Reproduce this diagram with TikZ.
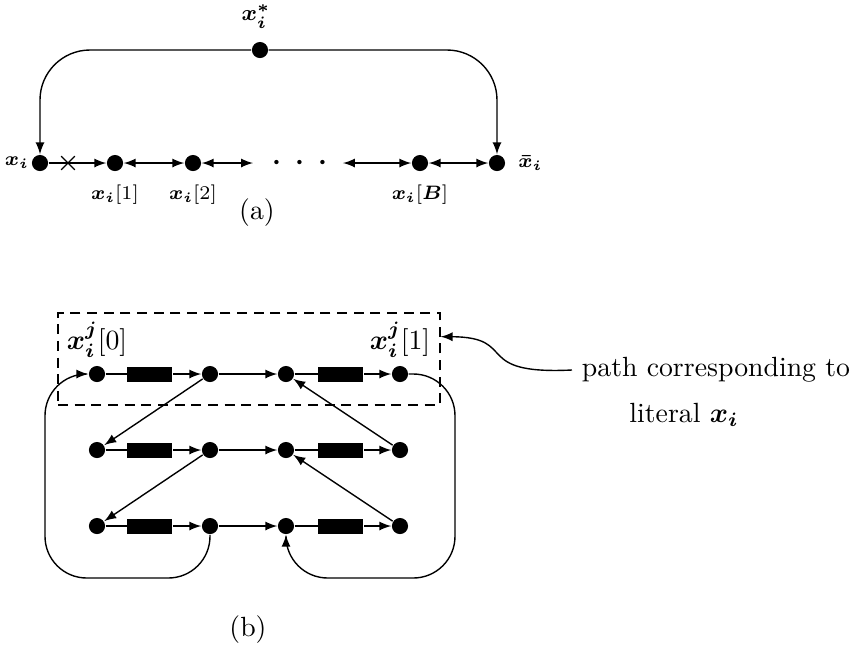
\documentclass[tikz,border=0pt]{standalone}
\usepackage{amsmath,bm}
\usetikzlibrary{calc,positioning,arrows,shapes.misc}
\tikzset{
  dot/.style={circle, fill=black, inner sep=0pt, minimum size=5.8pt},
  blk/.style={rectangle, fill=black, inner sep=0pt, minimum width=16.2pt, minimum height=5.4pt},
  cut/.style={cross out, draw, inner sep=0pt, minimum size=4.4pt}
}

\begin{document}
\begin{tikzpicture}[x=0.36pt,y=-0.36pt,line width=0.5pt,>=latex]
		\useasboundingbox (0,0) rectangle (859,650);
		% (a)
		\node[dot] (xs) at (260,50) {};
		\node[anchor=south] (lxs) at (256,38) {\footnotesize$\bm{x_i^*}$};
		\node[dot] (xa) at (40,163) {};
		\node[dot] (xa1) at (115,163) {};
		\node[dot] (xa2) at (193,163) {};
		\node[dot] (xaB) at (420,163) {};
		\node[dot] (xbar) at (497,163) {};
		\coordinate (ea) at (253,163);
		\coordinate (eb) at (343,163);
		\node (dots) at (300,163) {$\bm{\cdot\;\cdot\;\cdot}$};
		\node[inner sep=0pt] (lxa) at (17,163) {\scriptsize$\bm{x_i}$};
		\node[right=1pt of xbar] (lxbar) {\scriptsize$\bm{\bar{x}_i}$};
		\node[below=1pt of xa1] (lxa1) {\scriptsize$\bm{x_i}[1]$};
		\node[below=1pt of xa2] (lxa2) {\scriptsize$\bm{x_i}[2]$};
		\node[below=1pt of xaB] (lxaB) {\scriptsize$\bm{x_i}[\bm{B}]$};
		\draw[->] (xa) -- (xa1);
		\node[cut] (cx) at (68,163) {};
		\draw[<->] (xa1) -- (xa2);
		\draw[<->] (xa2) -- (ea);
		\draw[<->] (eb) -- (xaB);
		\draw[<->] (xaB) -- (xbar);
		\draw[->,rounded corners=18pt] (xs) -| (xa);
		\draw[->,rounded corners=18pt] (xs) -| (xbar);
		\node (capa) at (257,213) {(a)};
		% (b)
		\foreach \r/\y in {1/374,2/450,3/526} {
			\foreach \c/\x in {1/97,2/210,3/286,4/400} {
				\node[dot] (n\r\c) at (\x,\y) {};
			}
			\node[blk] (bl\r) at (150,\y) {};
			\node[blk] (br\r) at (341,\y) {};
			\draw (n\r1) -- (bl\r);
			\draw[->] (bl\r) -- (n\r2);
			\draw[->] (n\r2) -- (n\r3);
			\draw (n\r3) -- (br\r);
			\draw[->] (br\r) -- (n\r4);
		}
		\foreach \r/\s in {1/2,2/3} {
			\draw[->] (n\r2) -- (n\s1);
			\draw[->] (n\s4) -- (n\r3);
		}
		\coordinate (lb) at (45,578);
		\coordinate (rb) at (455,578);
		\draw[->,rounded corners=15pt] (n32.south) -- (n32 |- lb) -- (lb) -- (lb |- n11) -- (n11.west);
		\draw[->,rounded corners=15pt] (n14.east) -- (rb |- n14) -- (rb) -- (n33 |- rb) -- (n33.south);
		\node (l0) at (97,340) {$\bm{x_i^j}[0]$};
		\node (l1) at (400,340) {$\bm{x_i^j}[1]$};
		\node[draw,dashed,dash pattern=on 3.6pt off 2.4pt,minimum width=137.5pt,minimum height=33pt] (box) at (249,359) {};
		\node (ann) at (716,370) {path corresponding to};
		\node (lit) at (684,415) {literal $\bm{x_i}$};
		\coordinate (tip) at ($(box.north east)!0.26!(box.south east)$);
		\draw[->] (ann.west) .. controls (470,375) and (520,337) .. (tip);
		\node (capb) at (248,630) {(b)};
	\end{tikzpicture}
\end{document}
